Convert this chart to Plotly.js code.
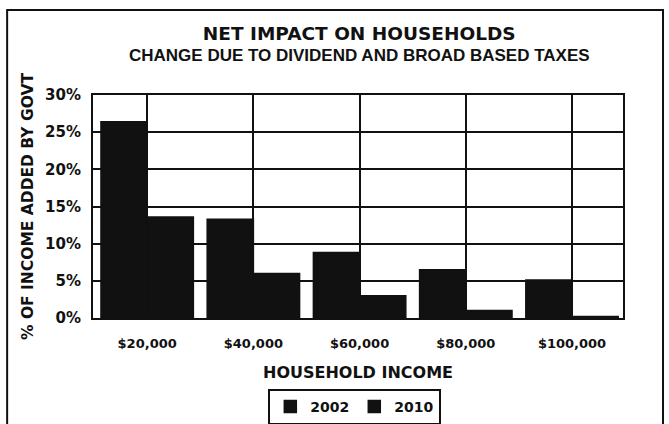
<!DOCTYPE html>
<html>
<head>
<meta charset="utf-8">
<script src="https://cdn.plot.ly/plotly-3.0.1.min.js"></script>
<style>html,body{margin:0;padding:0;background:#fff;}#chart{width:669px;height:424px;}</style>
</head>
<body>
<div id="chart"></div>
<script>
const categories = ['$20,000', '$40,000', '$60,000', '$80,000', '$100,000'];
const values2002 = [26.4, 13.3, 8.8, 6.5, 5.1];
const values2010 = [13.6, 6.0, 3.0, 1.0, 0.2];
const seriesNames = ['2002', '2010'];
const titleText = 'NET IMPACT ON HOUSEHOLDS';
const subtitleText = 'CHANGE DUE TO DIVIDEND AND BROAD BASED TAXES';

const FONT = 'DejaVu Sans, Liberation Sans, Arial, sans-serif';
const NARROW = 'Liberation Sans, Arial, sans-serif';
const INK = '#111111';

const traces = [
  {type: 'bar', name: seriesNames[0], x: categories, y: values2002, marker: {color: INK, line: {color: INK, width: 1.5}}},
  {type: 'bar', name: seriesNames[1], x: categories, y: values2010, marker: {color: INK, line: {color: INK, width: 1.5}}}
];

const layout = {
  width: 669, height: 424,
  margin: {l: 93, r: 46, t: 95, b: 106, autoexpand: false},
  paper_bgcolor: '#fff', plot_bgcolor: '#fff',
  font: {family: FONT, color: INK},
  barmode: 'group', bargap: 0.13, bargroupgap: 0,
  title: {
    text: '<b>' + titleText + '</b>',
    font: {family: FONT, size: 18.5, color: INK},
    x: 0.537, xanchor: 'center', y: 0.92, yanchor: 'middle', yref: 'container'
  },
  annotations: [
    {text: '<b>' + subtitleText + '</b>', xref: 'paper', yref: 'paper', x: 0.503, y: 1.175,
     xanchor: 'center', yanchor: 'middle', showarrow: false,
     font: {family: NARROW, size: 17, color: INK}}
  ],
  xaxis: {
    type: 'category', range: [-0.51, 4.48], automargin: false,
    showgrid: true, gridcolor: INK, gridwidth: 2,
    showline: true, linecolor: INK, linewidth: 2, mirror: true,
    ticks: '', ticklabelstandoff: 12,
    tickfont: {family: FONT, size: 13, color: INK, weight: 'bold'},
    title: {text: '<b>HOUSEHOLD INCOME</b>', font: {family: FONT, size: 16, color: INK}, standoff: 17},
    fixedrange: true
  },
  yaxis: {
    range: [0, 30], dtick: 5, ticksuffix: '%', automargin: false,
    showgrid: true, gridcolor: INK, gridwidth: 2, zeroline: false,
    showline: true, linecolor: INK, linewidth: 2, mirror: true,
    ticks: '', ticklabelstandoff: 7,
    tickfont: {family: FONT, size: 15, color: INK, weight: 'bold'},
    title: {text: '<b>% OF INCOME ADDED BY GOVT</b>', font: {family: FONT, size: 15.5, color: INK}, standoff: 8},
    fixedrange: true
  },
  showlegend: true,
  legend: {
    orientation: 'h', x: 0.494, xanchor: 'center', y: -0.318, yanchor: 'top',
    bordercolor: INK, borderwidth: 2, bgcolor: '#fff',
    font: {family: FONT, size: 14, color: INK, weight: 'bold'},
    itemwidth: 30, traceorder: 'normal'
  },
  shapes: [
    {type: 'rect', xref: 'paper', yref: 'paper', x0: -0.162, x1: 1.0755, y0: -0.49, y1: 1.381,
     line: {color: INK, width: 2}, fillcolor: 'rgba(0,0,0,0)', layer: 'below'}
  ]
};

Plotly.newPlot('chart', traces, layout, {displayModeBar: false, staticPlot: true});
</script>
</body>
</html>
